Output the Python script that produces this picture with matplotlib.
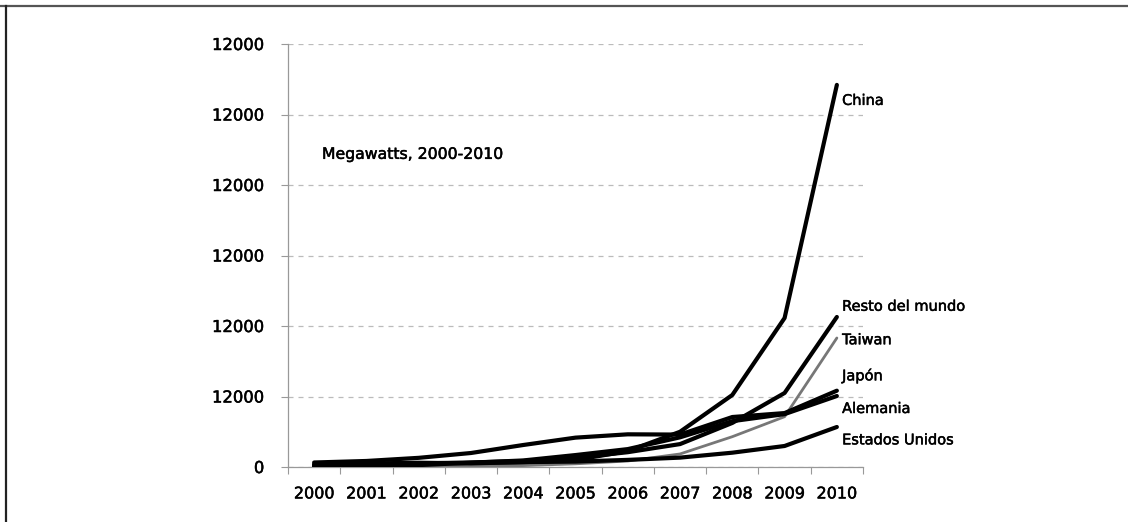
import matplotlib
matplotlib.use("Agg")
import matplotlib.pyplot as plt
from matplotlib.lines import Line2D
import matplotlib.patheffects as pe
import numpy as np

years = ["2000", "2001", "2002", "2003", "2004", "2005", "2006", "2007", "2008", "2009", "2010"]
china = [10, 20, 40, 60, 100, 200, 450, 1000, 2043, 4227, 10840]
resto = [60, 80, 100, 130, 170, 260, 420, 650, 1250, 2100, 4256]
taiwan = [5, 10, 15, 20, 40, 90, 170, 370, 860, 1427, 3660]
japon = [128, 171, 260, 397, 624, 833, 927, 920, 1418, 1530, 2165]
alemania = [23, 33, 54, 121, 186, 339, 508, 842, 1300, 1500, 2014]
eeuu = [75, 100, 121, 103, 139, 154, 202, 266, 406, 596, 1135]

series_names = ["China", "Resto del mundo", "Taiwan", "Japón", "Alemania", "Estados Unidos"]
label_y = [10400, 4560, 3610, 2600, 1660, 770]
ytick_vals = [0, 2000, 4000, 6000, 8000, 10000, 12000]
ytick_labels = ["0", "12000", "12000", "12000", "12000", "12000", "12000"]

plt.rcParams['font.family'] = ['DejaVu Sans']
bold_fx = [pe.withStroke(linewidth=0.35, foreground='black')]

fig = plt.figure(figsize=(11.28, 5.22), dpi=100)
ax = fig.add_axes([288/1128, 1-467/522, (863-288)/1128, (467-44)/522])

x = np.arange(len(years))
data = [china, resto, taiwan, japon, alemania, eeuu]
colors = ["black", "black", "#777777", "black", "black", "black"]
widths = [3.0, 3.0, 2.0, 3.0, 3.0, 3.0]
for vals, c, w in zip(data, colors, widths):
    ax.plot(x, vals, color=c, lw=w, solid_joinstyle='round', solid_capstyle='round', zorder=3)

for name, ly in zip(series_names, label_y):
    ax.text(10.1, ly, name, fontsize=10.5, va='center', ha='left', clip_on=False,
            path_effects=bold_fx)

ax.text(0.15, 8870, "Megawatts, 2000-2010", fontsize=11.3, va='center', ha='left',
        path_effects=bold_fx)

ax.set_xlim(-0.5, 10.5)
ax.set_ylim(0, 12000)
ax.set_yticks(ytick_vals)
ax.set_yticklabels(ytick_labels, fontsize=11.8)
ax.set_xticks(x)
ax.set_xticklabels(years, fontsize=11.5)
ax.set_xticks(np.arange(-0.5, 11, 1), minor=True)
ax.tick_params(axis='x', which='major', length=0, pad=14)
ax.tick_params(axis='x', which='minor', length=5, color='#999999', width=0.8)
ax.tick_params(axis='y', which='major', length=5, color='#999999', width=0.8, pad=12)
for lab in ax.get_xticklabels() + ax.get_yticklabels():
    lab.set_path_effects(bold_fx)

for s in ['top', 'right']:
    ax.spines[s].set_visible(False)
for s in ['left', 'bottom']:
    ax.spines[s].set_color('#999999')
    ax.spines[s].set_linewidth(0.9)

ax.yaxis.grid(True, linestyle=(0, (4, 4)), color='#bbbbbb', linewidth=0.9)
ax.set_axisbelow(True)

fig.add_artist(Line2D([0, 1], [1-5.5/522, 1-5.5/522], transform=fig.transFigure, color='#555555', lw=1.6))
fig.add_artist(Line2D([6/1128, 6/1128], [0, 1-5.5/522], transform=fig.transFigure, color='#222222', lw=1.6))

fig.savefig("out.png", dpi=100)
